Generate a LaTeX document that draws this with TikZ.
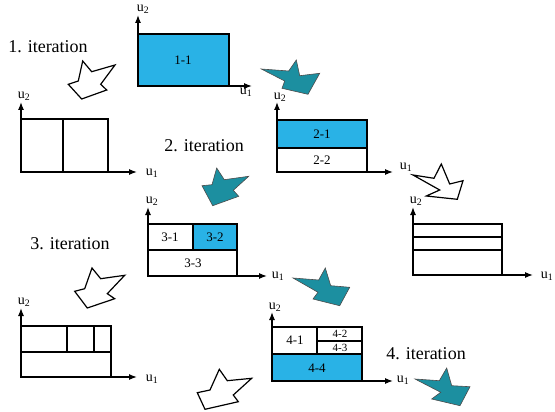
\documentclass[tikz,border=0pt]{standalone}
\usepackage{fontspec}
\setmainfont{Liberation Serif}
\usetikzlibrary{arrows.meta}
\definecolor{cellblue}{RGB}{41,178,230}
\definecolor{arrowteal}{RGB}{28,143,160}

\begin{document}
\begin{tikzpicture}[x=1pt, y=-1pt,
    every node/.style={inner sep=0pt},
    grid/.style={draw=black, line width=1.3pt},
    axis/.style={-{Latex[length=8pt,width=6pt]}, line width=1.3pt},
    ulab/.style={font=\fontsize{14}{14}\selectfont},
    cell/.style={font=\fontsize{13}{13}\selectfont},
    iter/.style={font=\fontsize{18}{18}\selectfont},
    openarrow/.style={draw=black, line width=1.2pt, fill=white},
    tealarrow/.style={draw=black!70, line width=0.6pt, fill=arrowteal}
]
\useasboundingbox (0,0) rectangle (555,412);

% iteration labels
\node[iter] (it1) at (48,47)  {1. iteration};
\node[iter] (it2) at (204,146) {2. iteration};
\node[iter] (it3) at (70,244)  {3. iteration};
\node[iter] (it4) at (426,354) {4. iteration};

% panel 1-1
\coordinate (o1) at (138,86);
\coordinate (y1) at (138,15);
\coordinate (x1) at (252,86);
\filldraw[grid, fill=cellblue] (138,34) rectangle (229,86);
\node[cell] (c11) at (183,60) {1-1};
\draw[axis] (o1) -- (y1);
\draw[axis] (o1) -- (x1);
\node[ulab] (u2a) at (143,9)  {u\textsubscript{2}};
\node[ulab] (u1a) at (246,92) {u\textsubscript{1}};

% panel left, two columns
\coordinate (o2) at (21,172);
\coordinate (y2) at (21,102);
\coordinate (x2) at (137,172);
\draw[grid] (21,119) rectangle (108,172);
\draw[grid] (63,119) -- (63,172);
\draw[axis] (o2) -- (y2);
\draw[axis] (o2) -- (x2);
\node[ulab] (u2b) at (24,96)   {u\textsubscript{2}};
\node[ulab] (u1b) at (152,173) {u\textsubscript{1}};

% panel 2-1 / 2-2
\coordinate (o3) at (277,172);
\coordinate (y3) at (277,102);
\coordinate (x3) at (393,172);
\filldraw[grid, fill=cellblue] (277,120) rectangle (367,148);
\draw[grid] (277,148) rectangle (367,172);
\node[cell] (c21) at (322,134) {2-1};
\node[cell] (c22) at (322,160) {2-2};
\draw[axis] (o3) -- (y3);
\draw[axis] (o3) -- (x3);
\node[ulab] (u2c) at (280,97)  {u\textsubscript{2}};
\node[ulab] (u1c) at (406,167) {u\textsubscript{1}};

% panel right, three rows
\coordinate (o4) at (413,275);
\coordinate (y4) at (413,207);
\coordinate (x4) at (533,275);
\draw[grid] (413,224) rectangle (502,275);
\draw[grid] (413,237) -- (502,237);
\draw[grid] (413,250) -- (502,250);
\draw[axis] (o4) -- (y4);
\draw[axis] (o4) -- (x4);
\node[ulab] (u2d) at (416,201) {u\textsubscript{2}};
\node[ulab] (u1d) at (547,276) {u\textsubscript{1}};

% panel 3-x
\coordinate (o5) at (148,276);
\coordinate (y5) at (148,207);
\coordinate (x5) at (267,276);
\filldraw[grid, fill=cellblue] (193,224) rectangle (237,250);
\draw[grid] (148,224) rectangle (237,276);
\draw[grid] (148,250) -- (237,250);
\draw[grid] (193,224) -- (193,250);
\node[cell] (c31) at (170,237) {3-1};
\node[cell] (c32) at (215,237) {3-2};
\node[cell] (c33) at (193,263) {3-3};
\draw[axis] (o5) -- (y5);
\draw[axis] (o5) -- (x5);
\node[ulab] (u2e) at (152,201) {u\textsubscript{2}};
\node[ulab] (u1e) at (278,276) {u\textsubscript{1}};

% panel left bottom
\coordinate (o6) at (21,377);
\coordinate (y6) at (21,308);
\coordinate (x6) at (137,377);
\draw[grid] (21,326) rectangle (111,377);
\draw[grid] (21,352) -- (111,352);
\draw[grid] (67,326) -- (67,352);
\draw[grid] (94,326) -- (94,352);
\draw[axis] (o6) -- (y6);
\draw[axis] (o6) -- (x6);
\node[ulab] (u2f) at (24,302)  {u\textsubscript{2}};
\node[ulab] (u1f) at (152,379) {u\textsubscript{1}};

% panel 4-x
\coordinate (o7) at (272,381);
\coordinate (y7) at (272,312);
\coordinate (x7) at (393,381);
\filldraw[grid, fill=cellblue] (272,354) rectangle (362,381);
\draw[grid] (272,327) rectangle (362,381);
\draw[grid] (317,327) -- (317,354);
\draw[grid] (317,341) -- (363,341);
\node[cell] (c41) at (295,340) {4-1};
\node[cell, font=\fontsize{11}{11}\selectfont] (c42) at (340,334) {4-2};
\node[cell, font=\fontsize{11}{11}\selectfont] (c43) at (340,348) {4-3};
\node[cell] (c44) at (317,368) {4-4};
\draw[axis] (o7) -- (y7);
\draw[axis] (o7) -- (x7);
\node[ulab] (u2g) at (275,307) {u\textsubscript{2}};
\node[ulab] (u1g) at (403,380) {u\textsubscript{1}};

% step arrows
\draw[openarrow] (82.7,61) -- (91.7,71.7) -- (115,65) -- (100.7,84.3) -- (106.7,90) -- (81.7,99) -- (68.3,84.3) -- (78.3,81) -- cycle;
\draw[tealarrow] (261.3,69) -- (288.7,71) -- (296.3,60) -- (299.7,75.7) -- (319.7,73.3) -- (308,94.3) -- (282,88.3) -- (284.7,81) -- cycle;
\draw[tealarrow] (216.7,168) -- (224.3,179.7) -- (248.7,176.3) -- (233.3,190.3) -- (238.7,196.3) -- (212.7,205.7) -- (202,185.7) -- (212,184.7) -- cycle;
\draw[openarrow] (413,175) -- (434,178.3) -- (441.3,164) -- (449.7,184) -- (463,180.7) -- (457.3,199.3) -- (426.3,196) -- (439.7,190) -- cycle;
\draw[openarrow] (92,268) -- (100.7,278.7) -- (124.7,275.3) -- (107.3,293.7) -- (114.7,298.7) -- (87.3,308) -- (74.7,291.3) -- (84.7,288.7) -- cycle;
\draw[tealarrow] (293,278) -- (318.7,280) -- (325.3,268) -- (330.7,285.7) -- (349.7,287.3) -- (339.7,305.7) -- (313,299) -- (318,292.3) -- cycle;
\draw[tealarrow] (415,379) -- (439.3,380.7) -- (446.7,368) -- (451.7,385.7) -- (470,386.7) -- (460,405.7) -- (431.7,399) -- (440.7,392.3) -- cycle;
\draw[openarrow] (219.3,369.3) -- (227.3,380.7) -- (251.7,378.3) -- (233.3,395) -- (238.3,401.7) -- (205,409.3) -- (197.3,392.7) -- (210,390) -- cycle;
\end{tikzpicture}
\end{document}
